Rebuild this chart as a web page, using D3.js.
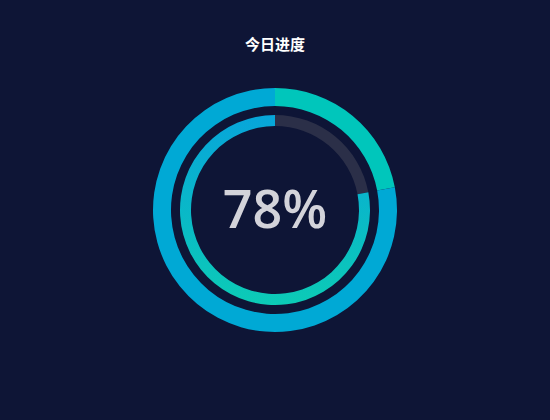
<!DOCTYPE html>
<html>
<head>
<meta charset="utf-8">
<script src="https://cdn.jsdelivr.net/npm/d3@7"></script>
<style>
  html, body { margin: 0; padding: 0; background: #0e1536; }
  #viz { width: 550px; height: 420px; }
</style>
</head>
<body>
<div id="viz"></div>
<script>
// chart values
const title = "今日进度";
const parts = ["剩余", "完成"];
const partValues = [22, 78];
const outerColors = ["#00c6bb", "#00a9d5"];
const innerColors = ["#2b2f48", "url(#innerGrad)"];

const width = 550, height = 420;
const cx = 275, cy = 210;

const svg = d3.select("#viz")
              .append("svg")
              .attr("width", width)
              .attr("height", height);

svg.append("rect")
   .attr("width", width)
   .attr("height", height)
   .attr("fill", "#0e1536");

// vertical gradient for the inner progress arc (blue at top, teal at bottom)
const grad = svg.append("defs")
    .append("linearGradient")
    .attr("id", "innerGrad")
    .attr("gradientUnits", "userSpaceOnUse")
    .attr("x1", 0).attr("y1", -95)
    .attr("x2", 0).attr("y2", 95);
grad.append("stop").attr("offset", "0%").attr("stop-color", "#07a5da");
grad.append("stop").attr("offset", "100%").attr("stop-color", "#0ccbb6");

svg.append("text")
   .attr("x", cx)
   .attr("y", 50)
   .attr("text-anchor", "middle")
   .attr("fill", "#ffffff")
   .attr("font-family", "'Noto Sans CJK SC', sans-serif")
   .attr("font-weight", "bold")
   .attr("font-size", 15)
   .text(title);

const pie = d3.pie().sort(null).value(d => d);
const slices = pie(partValues);

const g = svg.append("g").attr("transform", `translate(${cx},${cy})`);

const outerArc = d3.arc().innerRadius(104).outerRadius(122);
g.selectAll("path.outer")
 .data(slices)
 .enter()
 .append("path")
 .attr("class", "outer")
 .attr("d", outerArc)
 .attr("fill", (d, i) => outerColors[i]);

const innerArc = d3.arc().innerRadius(84).outerRadius(95);
g.selectAll("path.inner")
 .data(slices)
 .enter()
 .append("path")
 .attr("class", "inner")
 .attr("d", innerArc)
 .attr("fill", (d, i) => innerColors[i]);

svg.append("text")
   .attr("x", cx)
   .attr("y", 228)
   .attr("text-anchor", "middle")
   .attr("fill", "#d3d3da")
   .attr("font-family", "'Open Sans', sans-serif")
   .attr("font-weight", 600)
   .attr("font-size", 52)
   .text(partValues[1] + "%");
</script>
</body>
</html>
